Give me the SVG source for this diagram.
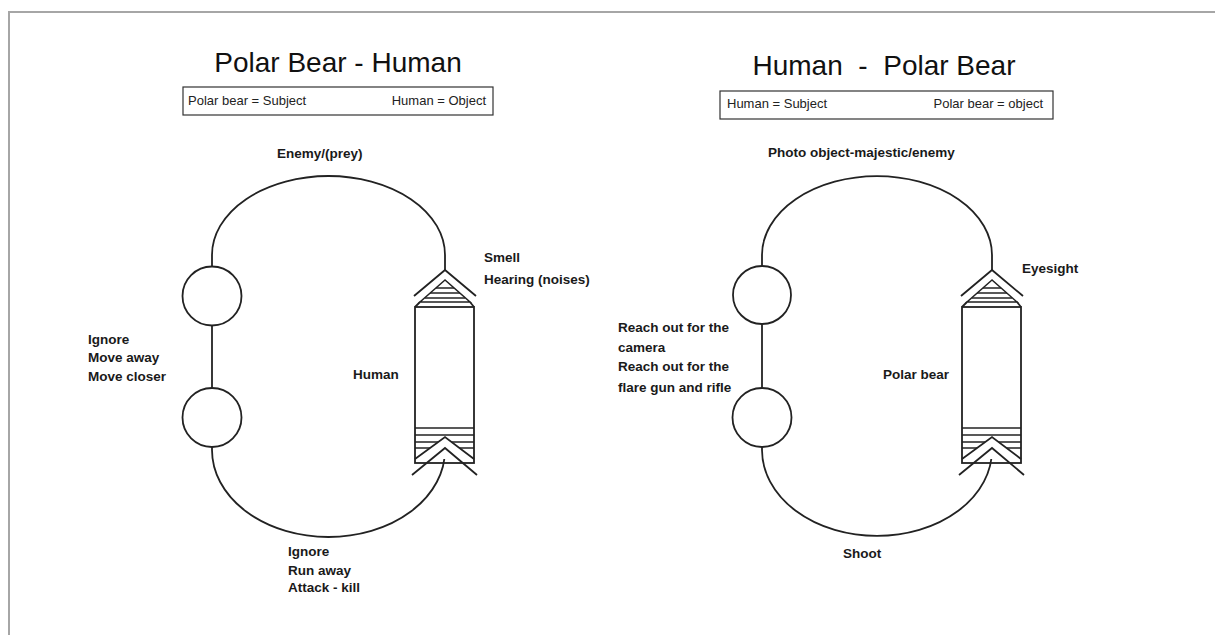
<svg xmlns="http://www.w3.org/2000/svg" width="1215" height="635" viewBox="0 0 1215 635">
<style>
.ln{fill:none;stroke:#222;stroke-width:1.8;stroke-linejoin:miter}
.th{fill:none;stroke:#222;stroke-width:1.5}
.title{font-family:"Liberation Sans",Arial,sans-serif;font-size:28px;fill:#111}
.sub{font-family:"Liberation Sans",Arial,sans-serif;font-size:13px;fill:#222}
.lab{font-family:"Liberation Sans",Arial,sans-serif;font-size:13.5px;font-weight:bold;fill:#1a1a1a}
.box{fill:#fff;stroke:#333;stroke-width:1.2}
</style>
<defs>
<g id="rocket">
<polyline class="ln" points="-31,26 0,0 31,26"/>
<polygon class="th" points="0,10 -25,32 25,32" fill="#fff"/>
<line class="th" x1="-9" y1="18" x2="9" y2="18"/>
<line class="th" x1="-15" y1="23" x2="15" y2="23"/>
<line class="th" x1="-20" y1="28" x2="20" y2="28"/>
<line class="ln" x1="-25" y1="32" x2="-30" y2="37"/>
<line class="ln" x1="25" y1="32" x2="29" y2="37"/>
<rect class="ln" x="-30" y="37" width="59" height="156"/>
<line class="th" x1="-30" y1="158" x2="29" y2="158"/>
<line class="th" x1="-30" y1="165" x2="29" y2="165"/>
<line class="th" x1="-30" y1="172" x2="29" y2="172"/>
<line class="th" x1="-30" y1="178" x2="29" y2="178"/>
<polyline class="ln" points="-30,189 0,167 29,189" style="fill:#fff"/>
<polyline class="ln" points="-33,205 0,178 32,205"/>
</g>
</defs>
<rect x="0" y="0" width="1215" height="635" fill="#fff"/>
<polyline points="9,635 9,12 1215,12" fill="none" stroke="#a6a6a6" stroke-width="2"/>

<g id="left-title">
<text class="title" x="338" y="72" text-anchor="middle">Polar Bear - Human</text>
<rect class="box" x="183" y="87" width="310" height="28"/>
<text class="sub" x="188" y="105">Polar bear = Subject</text>
<text class="sub" x="486" y="105" text-anchor="end">Human = Object</text>
</g>

<g id="right-title">
<text class="title" x="884" y="75" text-anchor="middle" xml:space="preserve">Human  -  Polar Bear</text>
<rect class="box" x="720" y="91" width="333" height="28"/>
<text class="sub" x="727" y="108">Human = Subject</text>
<text class="sub" x="1043" y="108" text-anchor="end">Polar bear = object</text>
</g>

<g id="connectors">
<path class="ln" d="M212,267 V255 A116.5,79 0 0 1 445,255 V270"/>
<line class="ln" x1="212" y1="325" x2="212" y2="388"/>
<path class="ln" d="M212,447 V450 A116.5,87 0 0 0 445,450 V446"/>
<path class="ln" d="M762,266 V255 A115,79 0 0 1 992,255 V270"/>
<line class="ln" x1="762" y1="324" x2="762" y2="388"/>
<path class="ln" d="M762,447 V450 A115,86 0 0 0 992,450 V446"/>
</g>

<g id="left-circle-1"><circle class="ln" cx="212" cy="296" r="29.5" style="fill:#fff"/></g>
<g id="left-circle-2"><circle class="ln" cx="212" cy="417.5" r="29.5" style="fill:#fff"/></g>
<g id="left-rocket"><use href="#rocket" x="445" y="270"/></g>

<g id="right-circle-1"><circle class="ln" cx="762" cy="295" r="29" style="fill:#fff"/></g>
<g id="right-circle-2"><circle class="ln" cx="762" cy="417.5" r="29.5" style="fill:#fff"/></g>
<g id="right-rocket"><use href="#rocket" x="992" y="270"/></g>

<g id="left-labels">
<text class="lab" x="277" y="158">Enemy/(prey)</text>
<text class="lab" x="484" y="262">Smell</text>
<text class="lab" x="484" y="284">Hearing (noises)</text>
<text class="lab" x="88" y="344">Ignore</text>
<text class="lab" x="88" y="362">Move away</text>
<text class="lab" x="88" y="381">Move closer</text>
<text class="lab" x="353" y="379">Human</text>
<text class="lab" x="288" y="556">Ignore</text>
<text class="lab" x="288" y="575">Run away</text>
<text class="lab" x="288" y="592">Attack - kill</text>
</g>

<g id="right-labels">
<text class="lab" x="768" y="157">Photo object-majestic/enemy</text>
<text class="lab" x="1022" y="273">Eyesight</text>
<text class="lab" x="618" y="332">Reach out for the</text>
<text class="lab" x="618" y="352">camera</text>
<text class="lab" x="618" y="371">Reach out for the</text>
<text class="lab" x="618" y="392">flare gun and rifle</text>
<text class="lab" x="883" y="379">Polar bear</text>
<text class="lab" x="843" y="558">Shoot</text>
</g>
</svg>
